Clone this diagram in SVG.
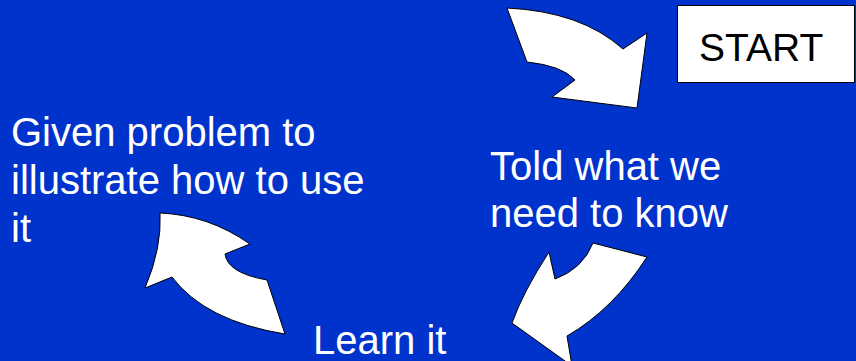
<svg xmlns="http://www.w3.org/2000/svg" width="856" height="361" viewBox="0 0 856 361">
<style>
.t{font-family:"Liberation Sans",Arial,sans-serif;font-size:40px;fill:#ffffff}
.a{fill:#ffffff;stroke:#000000;stroke-width:1;stroke-linejoin:miter}
</style>
<rect x="0" y="0" width="856" height="361" fill="#0033cc"/>
<g id="start">
<rect x="677.5" y="5.5" width="177" height="77" fill="#ffffff" stroke="#000000" stroke-width="1"/>
<text x="699" y="60.5" font-family="Liberation Sans, Arial, sans-serif" font-size="39" fill="#000000">START</text>
</g>
<g id="told">
<text class="t" x="490" y="180">Told what we</text>
<text class="t" x="490" y="227">need to know</text>
</g>
<g id="learn">
<text class="t" x="313" y="354">Learn it</text>
</g>
<g id="given">
<text class="t" x="11" y="146">Given problem to</text>
<text class="t" x="11" y="194">illustrate how to use</text>
<text class="t" x="11" y="242">it</text>
</g>
<g id="connectors">
<path class="a" d="M507,8 Q581,11.5 623,49 L647,33 L637,108 L552,97 L575,80 Q562,65.6 527,62 Z"/>
<path class="a" d="M593,243 L647,257 Q613,309.5 567,336 L572,366 L512,323 Q523,292 549,252 L555,279 Q582.6,269 593,243 Z"/>
<path class="a" d="M160,213 Q208.4,215 250,244 L225,254 Q227.4,273 267,280 L285,334 Q205,321 172,277 L145,288 Q162,248 160,213 Z"/>
</g>
</svg>
